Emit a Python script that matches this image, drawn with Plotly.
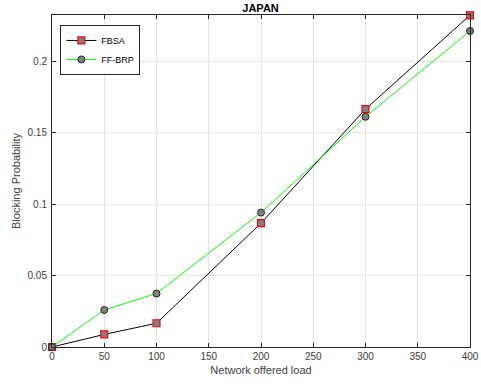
import plotly.graph_objects as go

load = [0, 50, 100, 200, 300, 400]
fbsa = [0.0, 0.0088, 0.0166, 0.0866, 0.1664, 0.2320]
ff_brp = [0.0, 0.0259, 0.0374, 0.0940, 0.1610, 0.2210]

x_ticks = [0, 50, 100, 150, 200, 250, 300, 350, 400]
y_ticks = [0, 0.05, 0.1, 0.15, 0.2]
y_tick_text = ["0", "0.05", "0.1", "0.15", "0.2"]

font_family = "Liberation Sans, Arial, sans-serif"
axis_color = "#262626"

fig = go.Figure()
fig.add_trace(go.Scatter(
    x=load, y=fbsa, name="FBSA", mode="lines+markers",
    line=dict(color="black", width=1),
    marker=dict(symbol="square", size=7, color="#808080",
                line=dict(color="#ff0000", width=1.2)),
    cliponaxis=False,
))
fig.add_trace(go.Scatter(
    x=load, y=ff_brp, name="FF-BRP", mode="lines+markers",
    line=dict(color="#00ff00", width=1),
    marker=dict(symbol="circle", size=7, color="#808080",
                line=dict(color="#222222", width=1)),
    cliponaxis=False,
))

axis_common = dict(
    showline=True, linecolor=axis_color, linewidth=1, mirror="ticks",
    ticks="inside", ticklen=4, tickcolor=axis_color, tickwidth=1,
    showgrid=True, gridcolor="#e3e3e3", gridwidth=1,
    zeroline=False, automargin=False,
    tickfont=dict(family=font_family, size=10, color="#404040"),
)

fig.update_layout(
    template="none",
    width=481, height=386,
    margin=dict(l=52, r=11, t=15, b=39),
    paper_bgcolor="white", plot_bgcolor="white",
    font=dict(family=font_family, color=axis_color),
    title=dict(text="<b>JAPAN</b>", x=0.5417, xanchor="center",
               y=0.978, yanchor="middle",
               font=dict(family=font_family, size=11, color="black")),
    xaxis=dict(range=[0, 400], tickvals=x_ticks,
               title=dict(text="Network offered load", standoff=5,
                          font=dict(family=font_family, size=11, color="#404040")),
               **axis_common),
    yaxis=dict(range=[0, 0.2322], tickvals=y_ticks, ticktext=y_tick_text,
               ticklabelstandoff=2,
               title=dict(text="Blocking Probability", standoff=4,
                          font=dict(family=font_family, size=11, color="#404040")),
               **axis_common),
    legend=dict(x=0.02, y=0.97, xanchor="left", yanchor="top",
                bgcolor="white", bordercolor=axis_color, borderwidth=1,
                font=dict(family=font_family, size=9, color="black"),
                tracegroupgap=0),
    showlegend=True,
)

fig.write_html("out.html")
